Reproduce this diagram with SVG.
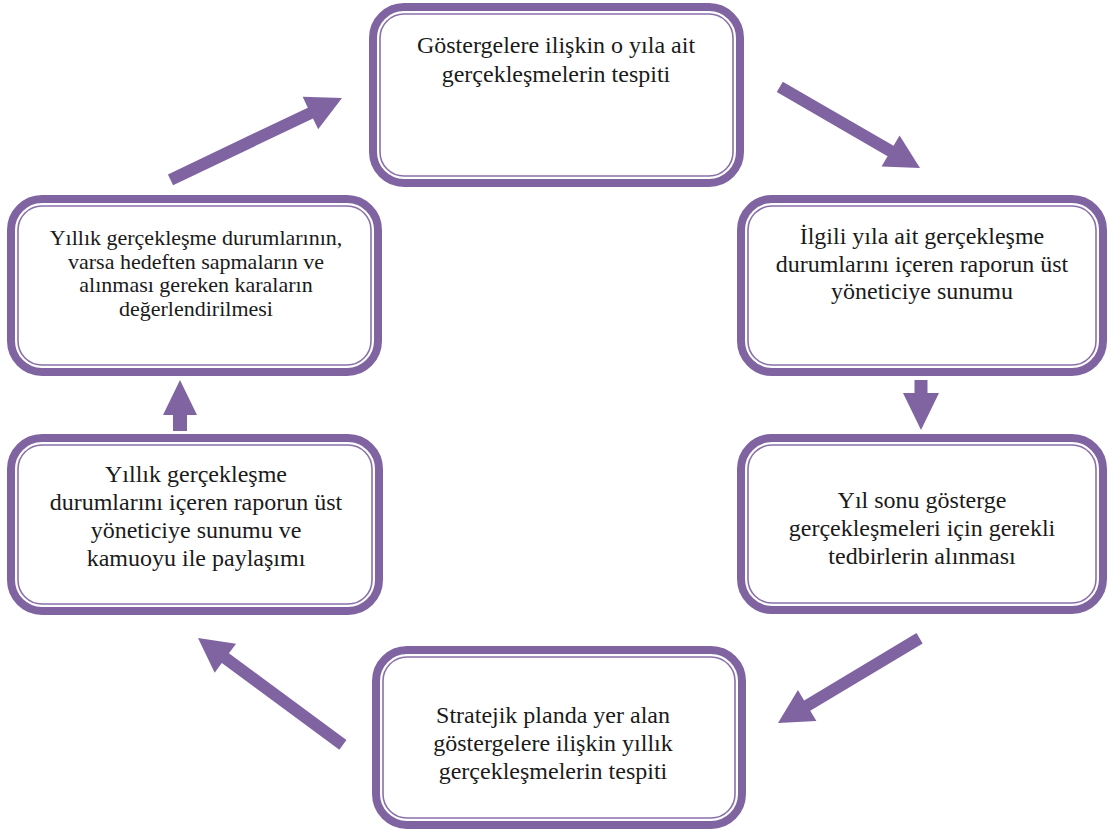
<svg xmlns="http://www.w3.org/2000/svg" width="1108" height="831" viewBox="0 0 1108 831">
<style>
.outer{fill:#ffffff;stroke:#8064A2;stroke-width:8}
.inner{fill:none;stroke:#8a70ab;stroke-width:1.6}
.t{font-family:'Liberation Serif','DejaVu Serif',serif;font-size:24px;fill:#1a1a1a;text-anchor:middle}
.s{font-family:'Liberation Serif','DejaVu Serif',serif;font-size:22px;fill:#1a1a1a;text-anchor:middle}
.arr{fill:#8064A2}
</style>
<rect width="1108" height="831" fill="#ffffff"/>
<g id="connectors">
<polygon class="arr" transform="translate(342,98) rotate(-25.5)" points="-190,-6 -35,-6 -35,-18 0,0 -35,18 -35,6 -190,6"/>
<polygon class="arr" transform="translate(920,168) rotate(30.05)" points="-162,-6 -34,-6 -34,-18 0,0 -34,18 -34,6 -162,6"/>
<polygon class="arr" transform="translate(921,430) rotate(90)" points="-50,-6.5 -37,-6.5 -37,-18 0,0 -37,18 -37,6.5 -50,6.5"/>
<polygon class="arr" transform="translate(778,723) rotate(149.1)" points="-165,-6 -34,-6 -34,-18 0,0 -34,18 -34,6 -165,6"/>
<polygon class="arr" transform="translate(198,638) rotate(216.4)" points="-180,-6 -34,-6 -34,-18 0,0 -34,18 -34,6 -180,6"/>
<polygon class="arr" transform="translate(180,380) rotate(-90)" points="-51,-7 -35,-7 -35,-17 0,0 -35,17 -35,7 -51,7"/>
</g>
<g id="node-top">
<rect class="outer" x="373" y="7" width="367" height="176" rx="31"/>
<rect class="inner" x="380" y="14" width="353" height="162" rx="24"/>
<text class="t" x="556" y="53">Göstergelere ilişkin o yıla ait</text>
<text class="t" x="556" y="82">gerçekleşmelerin tespiti</text>
</g>
<g id="node-right-top">
<rect class="outer" x="741" y="199" width="362" height="173" rx="31"/>
<rect class="inner" x="748" y="206" width="348" height="159" rx="24"/>
<text class="t" x="922" y="244">İlgili yıla ait gerçekleşme</text>
<text class="t" x="922" y="271.5">durumlarını içeren raporun üst</text>
<text class="t" x="922" y="299">yöneticiye sunumu</text>
</g>
<g id="node-right-bottom">
<rect class="outer" x="741" y="438" width="362" height="172" rx="31"/>
<rect class="inner" x="748" y="445" width="348" height="158" rx="24"/>
<text class="t" x="922" y="508">Yıl sonu gösterge</text>
<text class="t" x="922" y="536">gerçekleşmeleri için gerekli</text>
<text class="t" x="922" y="563.5">tedbirlerin alınması</text>
</g>
<g id="node-bottom">
<rect class="outer" x="376" y="650" width="366" height="175" rx="31"/>
<rect class="inner" x="383" y="657" width="352" height="161" rx="24"/>
<text class="t" x="553" y="723">Stratejik planda yer alan</text>
<text class="t" x="553" y="751">göstergelere ilişkin yıllık</text>
<text class="t" x="553" y="779">gerçekleşmelerin tespiti</text>
</g>
<g id="node-left-bottom">
<rect class="outer" x="11" y="438" width="368" height="173" rx="31"/>
<rect class="inner" x="18" y="445" width="354" height="159" rx="24"/>
<text class="t" x="196" y="482">Yıllık gerçekleşme</text>
<text class="t" x="196" y="510">durumlarını içeren raporun üst</text>
<text class="t" x="196" y="538">yöneticiye sunumu ve</text>
<text class="t" x="196" y="566">kamuoyu ile paylaşımı</text>
</g>
<g id="node-left-top">
<rect class="outer" x="11" y="199" width="367" height="173" rx="31"/>
<rect class="inner" x="18" y="206" width="353" height="159" rx="24"/>
<text class="s" x="196" y="245">Yıllık gerçekleşme durumlarının,</text>
<text class="s" x="196" y="268.5">varsa hedeften sapmaların ve</text>
<text class="s" x="196" y="292">alınması gereken karaların</text>
<text class="s" x="196" y="315.5">değerlendirilmesi</text>
</g>
</svg>
